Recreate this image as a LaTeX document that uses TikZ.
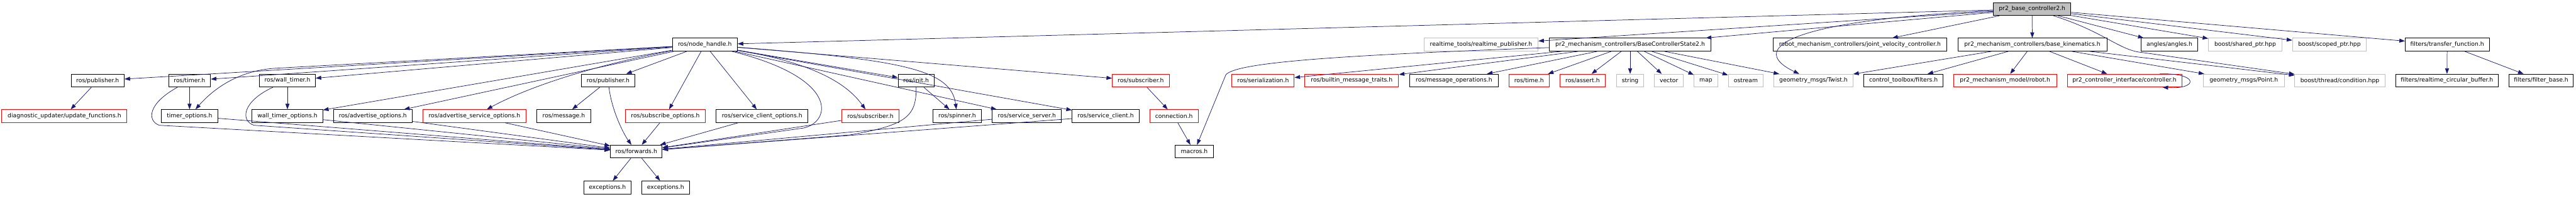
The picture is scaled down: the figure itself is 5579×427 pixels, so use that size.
\documentclass[tikz,border=0pt]{standalone}
\usepackage{fontspec}
\setmainfont{DejaVu Sans}
\usetikzlibrary{arrows.meta}
\definecolor{link}{RGB}{25,25,112}
\definecolor{greyline}{RGB}{191,191,191}
\tikzset{filebox/.style={draw=black,line width=1.2pt,minimum height=28,inner sep=0pt},
         redbox/.style={filebox,draw=red},
         greybox/.style={filebox,draw=greyline},
         rootbox/.style={filebox,fill=greyline},
         dep/.style={draw=link,line width=1pt,-{Triangle[length=12pt,width=8.5pt]}}}

\begin{document}
\begin{tikzpicture}[x=1pt,y=-1pt,font=\fontsize{12.6}{14}\selectfont]
  \useasboundingbox (0,0) rectangle (5579,427);
  % top row
  \node[rootbox,minimum width=168] (root) at (4401,19.5) {pr2\_base\_controller2.h};
  % first row
  \node[filebox,minimum width=141] (nh) at (1526.5,97) {ros/node\_handle.h};
  \node[greybox,minimum width=247] (rtpub) at (3207.5,97) {realtime\_tools/realtime\_publisher.h};
  \node[filebox,minimum width=351] (bcs) at (3530.5,97) {pr2\_mechanism\_controllers/BaseControllerState2.h};
  \node[filebox,minimum width=376] (jvc) at (4028,97) {robot\_mechanism\_controllers/joint\_velocity\_controller.h};
  \node[filebox,minimum width=323] (bk) at (4401.5,97) {pr2\_mechanism\_controllers/base\_kinematics.h};
  \node[filebox,minimum width=123] (ang) at (4698.5,97) {angles/angles.h};
  \node[greybox,minimum width=159] (shp) at (4862.5,97) {boost/shared\_ptr.hpp};
  \node[greybox,minimum width=160] (scp) at (5045,97) {boost/scoped\_ptr.hpp};
  \node[filebox,minimum width=182] (tf) at (5300,97) {filters/transfer\_function.h};
  % second row
  \node[filebox,minimum width=115] (pubA) at (211.5,175) {ros/publisher.h};
  \node[filebox,minimum width=91] (timer) at (410.5,175) {ros/timer.h};
  \node[filebox,minimum width=121] (wtimer) at (622.5,175) {ros/wall\_timer.h};
  \node[filebox,minimum width=116] (pubB) at (1317,175) {ros/publisher.h};
  \node[filebox,minimum width=78] (init) at (1984,175) {ros/init.h};
  \node[redbox,minimum width=123] (subB) at (2470.5,175) {ros/subscriber.h};
  \node[redbox,minimum width=135] (ser) at (2735.5,175) {ros/serialization.h};
  \node[redbox,minimum width=203] (bmt) at (2927.5,175) {ros/builtin\_message\_traits.h};
  \node[filebox,minimum width=192] (mops) at (3149,175) {ros/message\_operations.h};
  \node[redbox,minimum width=87] (time) at (3311.5,175) {ros/time.h};
  \node[redbox,minimum width=99] (assert) at (3427.5,175) {ros/assert.h};
  \node[greybox,minimum width=59] (string) at (3530.5,175) {string};
  \node[greybox,minimum width=63] (vector) at (3614.5,175) {vector};
  \node[greybox,minimum width=51] (map) at (3694.5,175) {map};
  \node[greybox,minimum width=76] (ostream) at (3781,175) {ostream};
  \node[greybox,minimum width=171] (twist) at (3927.5,175) {geometry\_msgs/Twist.h};
  \node[filebox,minimum width=171] (filt) at (4122.5,175) {control\_toolbox/filters.h};
  \node[redbox,minimum width=223] (robot) at (4342.5,175) {pr2\_mechanism\_model/robot.h};
  \node[redbox,minimum width=248] (ctrl) at (4601,175) {pr2\_controller\_interface/controller.h};
  \node[greybox,minimum width=175] (point) at (4859.5,175) {geometry\_msgs/Point.h};
  \node[greybox,minimum width=195] (cond) at (5067.5,175) {boost/thread/condition.hpp};
  \node[filebox,minimum width=223] (rcb) at (5299.5,175) {filters/realtime\_circular\_buffer.h};
  \node[filebox,minimum width=139] (fbase) at (5503.5,175) {filters/filter\_base.h};
  % third row
  \node[redbox,minimum width=271] (diag) at (139.5,252) {diagnostic\_updater/update\_functions.h};
  \node[filebox,minimum width=123] (topt) at (410.5,252) {timer\_options.h};
  \node[filebox,minimum width=153] (wtopt) at (622.5,252) {wall\_timer\_options.h};
  \node[filebox,minimum width=171] (aopt) at (807.5,252) {ros/advertise\_options.h};
  \node[redbox,minimum width=223] (asopt) at (1027.5,252) {ros/advertise\_service\_options.h};
  \node[filebox,minimum width=118] (msg) at (1221,252) {ros/message.h};
  \node[redbox,minimum width=174] (sopt) at (1441,252) {ros/subscribe\_options.h};
  \node[filebox,minimum width=199] (scopt) at (1650.5,252) {ros/service\_client\_options.h};
  \node[redbox,minimum width=124] (subA) at (1885,252) {ros/subscriber.h};
  \node[filebox,minimum width=104] (spin) at (2073,252) {ros/spinner.h};
  \node[filebox,minimum width=150] (ssrv) at (2224,252) {ros/service\_server.h};
  \node[filebox,minimum width=145] (scli) at (2394.5,252) {ros/service\_client.h};
  \node[redbox,minimum width=105] (conn) at (2542.5,252) {connection.h};
  % lower rows
  \node[filebox,minimum width=112] (fw) at (1378,329) {ros/forwards.h};
  \node[filebox,minimum width=83] (macros) at (2586.5,329) {macros.h};
  \node[filebox,minimum width=103] (excA) at (1315.5,407) {exceptions.h};
  \node[filebox,minimum width=103] (excB) at (1441.5,407) {exceptions.h};

  % includes of the root file
  \draw[dep] (root) -- (nh);
  \draw[dep] (root) -- (rtpub);
  \draw[dep] (root) -- (bcs);
  \draw[dep] (root) -- (jvc);
  \draw[dep] (root) .. controls (3850,45) and (3790,110) .. (twist);
  \draw[dep] (root) -- (bk);
  \draw[dep] (root) -- (ang);
  \draw[dep] (root) -- (shp);
  \draw[dep] (root) -- (scp);
  \draw[dep] (root) -- (tf);
  \draw[dep] (root) .. controls (4560,70) and (4590,110) .. (4640,114) -- (cond);
  % node handle
  \draw[dep] (nh) -- (pubA);
  \draw[dep] (nh) -- (timer);
  \draw[dep] (nh) -- (600,148) .. controls (520,152) and (465,190) .. (topt);
  \draw[dep] (nh) -- (wtimer);
  \draw[dep] (nh) -- (wtopt);
  \draw[dep] (nh) -- (aopt);
  \draw[dep] (nh) .. controls (1320,135) and (1160,180) .. (asopt);
  \draw[dep] (nh) -- (pubB);
  \draw[dep] (nh) -- (sopt);
  \draw[dep] (nh) -- (scopt);
  \draw[dep] (nh) .. controls (1820,170) and (1800,265) .. (1740,278) -- (fw);
  \draw[dep] (nh) .. controls (1780,140) and (1840,190) .. (subA);
  \draw[dep] (nh) -- (init);
  \draw[dep] (nh) .. controls (1950,130) and (2060,150) .. (spin);
  \draw[dep] (nh) -- (ssrv);
  \draw[dep] (nh) -- (scli);
  \draw[dep] (nh) -- (subB);
  % second level
  \draw[dep] (pubA) -- (diag);
  \draw[dep] (timer) -- (topt);
  \draw[dep] (timer) .. controls (320,225) and (318,262) .. (345,272) -- (fw);
  \draw[dep] (wtimer) -- (wtopt);
  \draw[dep] (wtimer) .. controls (525,220) and (520,262) .. (550,272) -- (fw);
  \draw[dep] (pubB) -- (msg);
  \draw[dep] (pubB) .. controls (1325,240) and (1350,290) .. (fw);
  \draw[dep] (init) -- (spin);
  \draw[dep] (init) .. controls (1985,255) and (1960,272) .. (1840,293) -- (fw);
  \draw[dep] (subB) -- (conn);
  \draw[dep] (conn) -- (macros);
  \draw[dep] (topt) -- (fw);
  \draw[dep] (wtopt) -- (fw);
  \draw[dep] (aopt) -- (fw);
  \draw[dep] (asopt) -- (fw);
  \draw[dep] (sopt) -- (fw);
  \draw[dep] (scopt) -- (fw);
  \draw[dep] (subA) -- (fw);
  \draw[dep] (ssrv) -- (fw);
  \draw[dep] (scli) -- (fw);
  \draw[dep] (fw) -- (excA);
  \draw[dep] (fw) -- (excB);
  % controller state
  \draw[dep] (bcs) -- (ser);
  \draw[dep] (bcs) -- (bmt);
  \draw[dep] (bcs) -- (mops);
  \draw[dep] (bcs) .. controls (2900,120) and (2680,135) .. (2655,162) -- (macros);
  \draw[dep] (bcs) -- (time);
  \draw[dep] (bcs) -- (assert);
  \draw[dep] (bcs) -- (string);
  \draw[dep] (bcs) -- (vector);
  \draw[dep] (bcs) -- (map);
  \draw[dep] (bcs) -- (ostream);
  \draw[dep] (bcs) -- (twist);
  % kinematics
  \draw[dep] (bk) -- (twist);
  \draw[dep] (bk) -- (filt);
  \draw[dep] (bk) -- (robot);
  \draw[dep] (bk) -- (ctrl);
  \draw[dep] (bk) -- (point);
  \draw[dep] (bk) -- (cond);
  \draw[dep] ([xshift=-48pt]ctrl.north east) .. controls (4762,158) and (4762,194) .. ([xshift=-42pt]ctrl.south east);
  % filters
  \draw[dep] (tf) -- (rcb);
  \draw[dep] (tf) -- (fbase);
\end{tikzpicture}
\end{document}
